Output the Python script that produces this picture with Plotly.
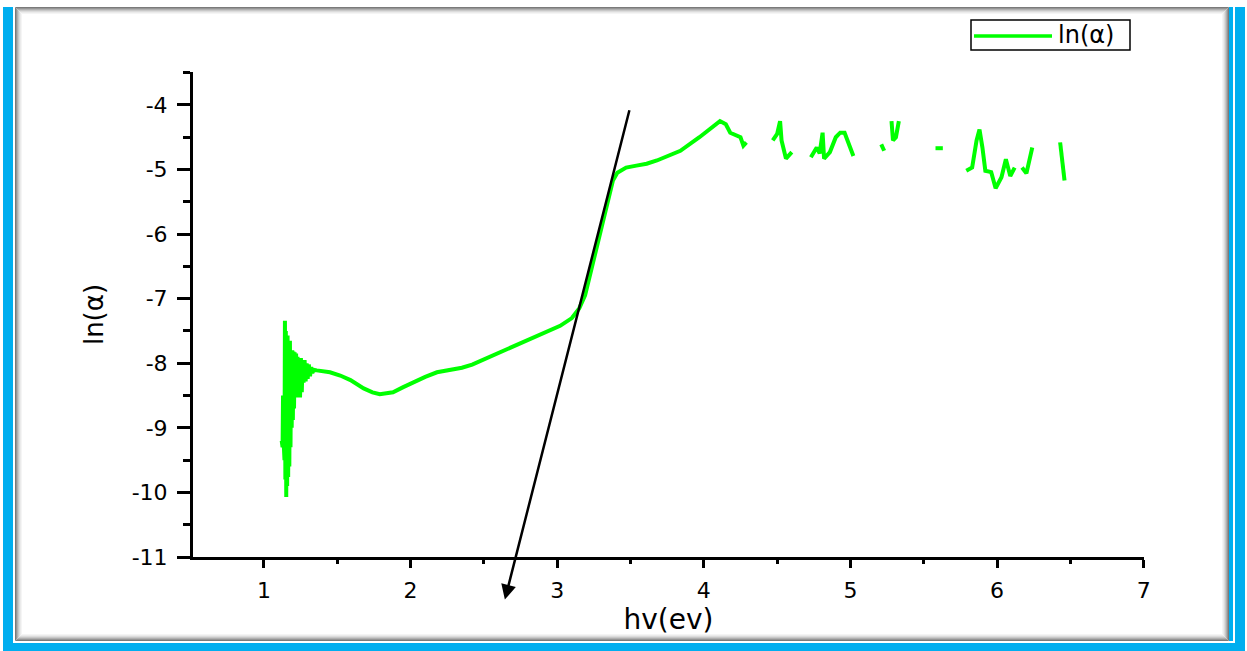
import plotly.graph_objects as go

# ---- data ----
hv = [1.121, 1.124, 1.127, 1.130, 1.134, 1.137, 1.140, 1.143, 1.146, 1.149, 1.152, 1.155,
      1.158, 1.161, 1.165, 1.169, 1.173, 1.177, 1.181, 1.185, 1.189, 1.193, 1.197, 1.201,
      1.205, 1.209, 1.214, 1.219, 1.224, 1.229, 1.234, 1.240, 1.246, 1.252, 1.258, 1.264,
      1.270, 1.277, 1.284, 1.291, 1.298, 1.306, 1.314, 1.322, 1.330, 1.340,
      1.36, 1.45, 1.52, 1.59, 1.68, 1.74, 1.79, 1.84, 1.88, 1.95, 2.02,
      2.10, 2.18, 2.27, 2.35, 2.42, 2.50, 2.61, 2.75, 2.88, 3.02, 3.10, 3.15, 3.19, 3.22,
      3.27, 3.31, 3.34, 3.36, 3.38, 3.41, 3.47, 3.54, 3.61, 3.68, 3.75, 3.84, 3.97, 4.05,
      4.11, 4.15, 4.18, 4.25, 4.27, 4.29, None,
      4.47, 4.50, 4.52, 4.53, 4.56, 4.60, None,
      4.73, 4.77, 4.79, 4.81, 4.82, 4.86, 4.90, 4.93, 4.96, 5.02, None,
      5.21, 5.23, None,
      5.28, 5.29, 5.31, 5.33, None,
      5.58, 5.63, None,
      5.79, 5.83, 5.86, 5.88, 5.90, 5.92, 5.96, 5.99, 6.03, 6.06, 6.09, 6.12, None,
      6.17, 6.20, 6.24, None,
      6.43, 6.46]
ln_alpha = [-9.2, -8.6, -9.3, -8.5, -9.2, -7.6, -9.5, -7.34, -9.8, -7.5, -10.07, -7.6,
            -9.9, -7.57, -9.76, -7.7, -9.6, -7.65, -9.3, -7.8, -9.0, -7.8, -8.88, -7.82,
            -8.7, -7.83, -8.53, -7.85, -8.53, -7.9, -8.5, -7.92, -8.53, -7.92, -8.45, -7.95,
            -8.3, -7.95, -8.28, -8.0, -8.24, -8.02, -8.2, -8.06, -8.15, -8.10,
            -8.11, -8.14, -8.19, -8.26, -8.39, -8.45, -8.48, -8.47, -8.45, -8.37, -8.29,
            -8.21, -8.14, -8.11, -8.07, -8.02, -7.94, -7.83, -7.69, -7.56, -7.42, -7.30, -7.15, -6.95, -6.67,
            -6.15, -5.80, -5.50, -5.33, -5.17, -5.05, -4.97, -4.94, -4.91, -4.86, -4.80, -4.71, -4.50, -4.35,
            -4.25, -4.30, -4.43, -4.50, -4.63, -4.58, None,
            -4.55, -4.45, -4.25, -4.55, -4.83, -4.73, None,
            -4.81, -4.66, -4.75, -4.43, -4.83, -4.73, -4.50, -4.43, -4.43, -4.79, None,
            -4.61, -4.71, None,
            -4.25, -4.55, -4.50, -4.25, None,
            -4.67, -4.67, None,
            -5.02, -4.97, -4.55, -4.38, -4.66, -5.02, -5.04, -5.29, -5.12, -4.84, -5.10, -4.97, None,
            -4.97, -5.06, -4.66, None,
            -4.58, -5.17]

# tangent (extrapolation) line: [tail, head]
tangent_hv = [3.495, 2.643]
tangent_ln = [-4.06, -11.66]

x_ticks = [1, 2, 3, 4, 5, 6, 7]
y_ticks = [-4, -5, -6, -7, -8, -9, -10, -11]
y_tick_text = ["-4", "-5", "-6", "-7", "-8", "-9", "-10", "-11"]
series_name = "ln(α)"

# ---- layout geometry (pixels) ----
W, H = 1247, 651
ML, MR, MT, MB = 193, 103, 72, 94
PW, PH = W - ML - MR, H - MT - MB


def px(xp):
    return (xp - ML) / PW


def py(yp):
    return (H - MB - yp) / PH


BLUE = "#00AEEF"
GREEN = "#00FF00"
FONT = "DejaVu Sans, Arial, sans-serif"
TICKFONT = dict(family=FONT, size=22, color="black")

fig = go.Figure()
fig.add_trace(go.Scatter(
    x=hv, y=ln_alpha, mode="lines", name=series_name,
    line=dict(color=GREEN, width=4), connectgaps=False, showlegend=False,
))

shapes = []
# blue frame strips
for (x0, y0, x1, y1) in [(3, 7, 13, 651), (1235, 7, 1245, 651), (1229, 7, 1233, 641),
                         (3, 643, 1245, 651)]:
    shapes.append(dict(type="rect", xref="paper", yref="paper", layer="below",
                       x0=px(x0), x1=px(x1), y0=py(y0), y1=py(y1),
                       fillcolor=BLUE, line=dict(width=0)))
# grey shadow on inner panel edges
greys = ["#7a7a7a", "#959595", "#b0b0b0", "#c8c8c8", "#dcdcdc", "#ebebeb", "#f5f5f5"]
for i, g in enumerate(greys):
    shapes.append(dict(type="rect", xref="paper", yref="paper", layer="below",
                       x0=px(15.5 + i), x1=px(1228.5 - i), y0=py(7.5 + i), y1=py(640.5 - i),
                       fillcolor="rgba(0,0,0,0)", line=dict(color=g, width=1)))
# legend box and sample line
shapes.append(dict(type="rect", xref="paper", yref="paper", layer="above",
                   x0=px(971), x1=px(1130), y0=py(20), y1=py(50),
                   fillcolor="white", line=dict(color="black", width=1.5)))
shapes.append(dict(type="line", xref="paper", yref="paper", layer="above",
                   x0=px(974), x1=px(1052), y0=py(36), y1=py(36),
                   line=dict(color=GREEN, width=3.5)))

fig.update_layout(
    width=W, height=H,
    margin=dict(l=ML, r=MR, t=MT, b=MB, pad=0),
    paper_bgcolor="white", plot_bgcolor="white",
    shapes=shapes,
    showlegend=False,
    annotations=[
        dict(x=tangent_hv[1], y=tangent_ln[1], ax=tangent_hv[0], ay=tangent_ln[0],
             xref="x", yref="y", axref="x", ayref="y",
             showarrow=True, arrowhead=2, arrowsize=1.2, arrowwidth=2.5, arrowcolor="black",
             text=""),
        dict(x=px(1056), y=py(35), xref="paper", yref="paper", xanchor="left", yanchor="middle",
             text=series_name, showarrow=False, font=dict(family=FONT, size=24, color="black")),
    ],
    xaxis=dict(
        range=[0.516, 7.002], showgrid=False, zeroline=False,
        showline=True, linecolor="black", linewidth=3,
        tickmode="array", tickvals=x_ticks,
        ticks="outside", ticklen=8, tickwidth=3, tickcolor="black",
        minor=dict(dtick=0.5, tick0=0.5, ticks="outside", ticklen=4, tickwidth=3, tickcolor="black"),
        tickfont=TICKFONT, ticklabelstandoff=4,
        title=dict(text="hv(ev)", font=dict(family=FONT, size=28, color="black"), standoff=6),
    ),
    yaxis=dict(
        range=[-11, -3.49], showgrid=False, zeroline=False,
        showline=True, linecolor="black", linewidth=3,
        tickmode="array", tickvals=y_ticks, ticktext=y_tick_text,
        ticks="outside", ticklen=13, tickwidth=3, tickcolor="black",
        minor=dict(dtick=0.5, tick0=0.5, ticks="outside", ticklen=7, tickwidth=3, tickcolor="black"),
        tickfont=TICKFONT, ticklabelstandoff=5,
        title=dict(text="ln(α)", font=dict(family=FONT, size=26, color="black"), standoff=21),
    ),
)

fig.write_html("out.html")
